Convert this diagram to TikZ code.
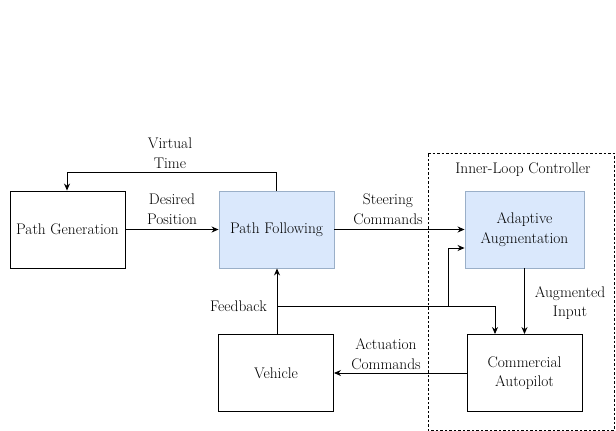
\documentclass[tikz,border=0pt]{standalone}
\usetikzlibrary{arrows.meta}
\definecolor{bfill}{HTML}{DAE8FC}
\definecolor{bdraw}{HTML}{9AAFC8}
\begin{document}
\begin{tikzpicture}[x=1pt,y=-1pt,
  box/.style={draw=black,line width=0.9pt,minimum width=115pt,minimum height=77pt,inner sep=0pt,align=center,font=\rmfamily\fontsize{15.4}{19.5}\selectfont},
  bluebox/.style={box,fill=bfill,draw=bdraw},
  lbl/.style={align=center,font=\rmfamily\fontsize{15.4}{19.5}\selectfont,inner sep=1pt},
  conn/.style={line width=0.9pt,-{Stealth[length=7pt,width=6pt]}},
  plain/.style={line width=0.9pt}]
\useasboundingbox (0,0) rectangle (616,431);
\fill[white] (0,0) rectangle (616,431);
% dashed inner loop frame
\draw[dashed,line width=0.7pt,dash pattern=on 2.5pt off 2pt] (428,153) -- (614,153) -- (614,430) -- (428,430) -- cycle;
\node[lbl] (ilc) at (523,170) {Inner-Loop Controller};
% boxes
\node[box] (pg) at (67.5,229.5) {Path Generation};
\node[bluebox] (pf) at (276.5,229.5) {Path Following};
\node[bluebox,minimum width=119pt] (aa) at (524.5,229.5) {Adaptive\\Augmentation};
\node[box] (ve) at (276,373) {Vehicle};
\node[box] (ca) at (524.5,373) {Commercial\\Autopilot};
% coordinates
\coordinate (vt1) at (276,172);
\coordinate (vt2) at (67,172);
\coordinate (fb) at (277,306);
\coordinate (fbr) at (495,306);
\coordinate (br) at (448,306);
\coordinate (br2) at (448,248);
% connectors
\draw[conn] (pf.north -| vt1) -- (vt1) -- (vt2) -- (pg.north -| vt2);
\draw[conn] (pg.east) -- (pf.west);
\draw[conn] (pf.east) -- (pf.east -| aa.west);
\draw[conn] (ve.north -| fb) -- (pf.south -| fb);
\draw[conn] (fb) -- (fbr) -- (ca.north -| fbr);
\draw[conn] (br) -- (br2) -- (br2 -| aa.west);
\draw[conn] (aa.south) -- (ca.north);
\draw[conn] (ca.west) -- (ve.east);
% labels
\node[lbl] (l1) at (170,153) {Virtual\\Time};
\node[lbl] (l2) at (172,209) {Desired\\Position};
\node[lbl] (l3) at (388,209) {Steering\\Commands};
\node[lbl,anchor=east] (l4) at (268,306) {Feedback};
\node[lbl] (l5) at (570,303) {Augmented\\Input};
\node[lbl] (l6) at (386,354) {Actuation\\Commands};
\end{tikzpicture}
\end{document}
